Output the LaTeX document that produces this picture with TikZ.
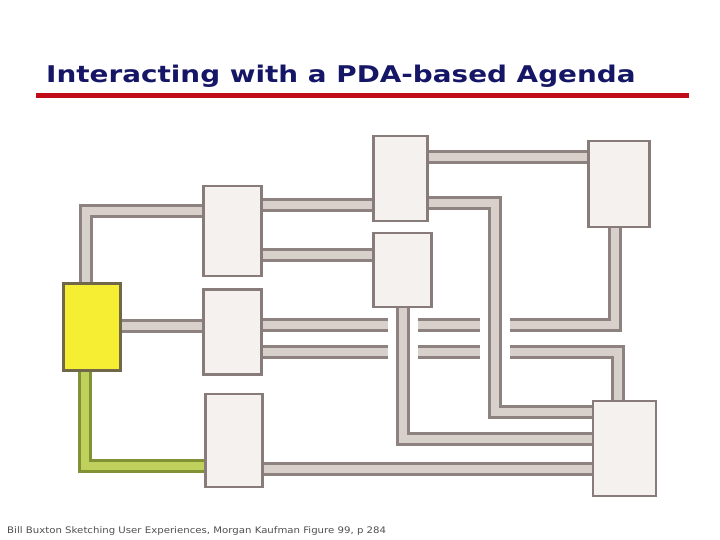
\documentclass[tikz,border=0pt]{standalone}
\usepackage{fontspec}
\setmainfont{DejaVu Sans}
\usetikzlibrary{backgrounds}
\definecolor{boxline}{RGB}{136,124,122}
\definecolor{boxfill}{RGB}{245,241,239}
\definecolor{connline}{RGB}{142,130,128}
\definecolor{connfill}{RGB}{216,208,202}
\definecolor{ybox}{RGB}{246,238,50}
\definecolor{yline}{RGB}{112,104,72}
\definecolor{gline}{RGB}{128,146,52}
\definecolor{gfill}{RGB}{192,208,92}
\definecolor{titlec}{RGB}{22,22,102}
\definecolor{rulec}{RGB}{192,12,24}
\definecolor{footc}{RGB}{80,80,80}
\begin{document}
\begin{tikzpicture}[x=1pt,y=-1pt,
  panel/.style={draw=boxline,line width=2.5pt,fill=boxfill,inner sep=0pt},
  ypanel/.style={draw=yline,line width=2.5pt,fill=ybox,inner sep=0pt},
  conn/.style={draw=connline,double=connfill,double distance=8pt,line width=3pt},
  gconn/.style={draw=gline,double=gfill,double distance=8pt,line width=3pt},
  gap/.style={draw=white,line width=30pt,line cap=rect}]
\useasboundingbox (0,0) rectangle (720,540);

% title
\node[anchor=base west,inner sep=0pt,text=titlec,xscale=1.21,font=\bfseries\fontsize{23}{27}\selectfont] (title) at (46,83) {Interacting with a PDA-based Agenda};
\draw[rulec,line width=5pt] (36,95.5) -- (689,95.5);

% boxes
\node[ypanel,minimum width=57pt,minimum height=87pt] (Y) at (92,327) {};
\node[panel,minimum width=58pt,minimum height=90pt] (A) at (232.5,231) {};
\node[panel,minimum width=58pt,minimum height=85pt] (B) at (232.5,332) {};
\node[panel,minimum width=57pt,minimum height=93pt] (C) at (234,440.5) {};
\node[panel,minimum width=54pt,minimum height=85pt] (D) at (400.5,178.5) {};
\node[panel,minimum width=58pt,minimum height=74pt] (E) at (402.5,270) {};
\node[panel,minimum width=61pt,minimum height=86pt] (F) at (619,184) {};
\node[panel,minimum width=63pt,minimum height=95pt] (G) at (624.5,448.5) {};

% connectors
\begin{scope}[on background layer]
\fill[white] (0,0) rectangle (720,540);
\draw[conn] ([xshift=-6pt]Y.north) |- ([yshift=20pt]A.west);
\coordinate (yb) at ([yshift=1.5pt]Y.east);
\draw[conn] (yb) -- (yb -| B.west);
\draw[gconn] ([xshift=-7pt]Y.south) |- ([yshift=-25.5pt]C.west);
\coordinate (ad) at ([yshift=26pt]A.east);
\draw[conn] (ad) -- (ad -| D.west);
\coordinate (ae) at ([yshift=-24pt]A.east);
\draw[conn] (ae) -- (ae -| E.west);
\coordinate (df) at ([yshift=21.5pt]D.east);
\draw[conn] (df) -- (df -| F.west);
\coordinate (cg) at ([yshift=-28.5pt]C.east);
\draw[conn] (cg) -- (cg -| G.west);
\coordinate (bf) at ([yshift=7pt]B.east);
\draw[conn] (bf) -| ([xshift=-4pt]F.south);
\coordinate (bg) at ([yshift=-20pt]B.east);
\draw[conn] (bg) -| ([xshift=-6.5pt]G.north);
\coordinate (dg) at ([yshift=-24.5pt]D.east);
\coordinate (dgk) at ([xshift=66pt]dg);
\draw[gap] (bf -| E.south) -- (bg -| E.south);
\draw[gap] (bf -| dgk) -- (bg -| dgk);
\draw[conn] (dg) -- (dgk) |- ([yshift=36.5pt]G.west);
\draw[conn] (E.south) |- ([yshift=9.5pt]G.west);
\end{scope}

% credit
\node[anchor=base west,inner sep=0pt,text=footc,xscale=1.13,font=\fontsize{9}{10}\selectfont] (credit) at (7,533) {Bill Buxton Sketching User Experiences, Morgan Kaufman Figure 99, p 284};
\end{tikzpicture}
\end{document}
